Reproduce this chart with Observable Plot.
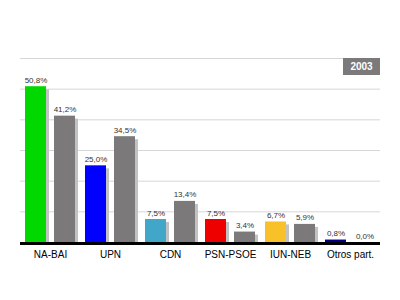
<!DOCTYPE html>
<html>
<head>
<meta charset="utf-8">
<script src="https://cdn.jsdelivr.net/npm/d3@7"></script>
<script src="https://cdn.jsdelivr.net/npm/@observablehq/plot@0.6"></script>
<style>
  html, body { margin: 0; padding: 0; background: #fff; }
  #chart { position: relative; width: 400px; height: 300px; }
</style>
</head>
<body>
<div id="chart"></div>
<script>
const partidos = ["NA-BAI", "UPN", "CDN", "PSN-PSOE", "IUN-NEB", "Otros part."];
const votos2003 = [50.8, 25.0, 7.5, 7.5, 6.7, 0.8];
const votosAnterior = [41.2, 34.5, 13.4, 3.4, 5.9, 0.0];
const colores = ["#00d800", "#0000ff", "#42a6c8", "#ee0000", "#f8c12a", "#000080"];
const grisAnterior = "#7b797a";
const yTicks = [10, 20, 30, 40, 50, 60];
const anio = "2003";

(function () {
  const fmt = v => v.toFixed(1).replace(".", ",") + "%";

  const rows = [];
  partidos.forEach((p, i) => {
    rows.push({partido: p, serie: "actual", valor: votos2003[i], color: colores[i]});
    rows.push({partido: p, serie: "anterior", valor: votosAnterior[i], color: grisAnterior});
  });

  const chart = Plot.plot({
    width: 400,
    height: 300,
    marginTop: 58,
    marginBottom: 58,
    marginLeft: 20,
    marginRight: 20,
    style: {fontFamily: "'Liberation Sans', Arial, sans-serif", background: "#fff"},
    fx: {domain: partidos, padding: 0, label: null},
    x: {domain: ["actual", "anterior"], paddingInner: 8 / 29, paddingOuter: 5 / 29, axis: null},
    y: {domain: [0, 60], axis: null},
    marks: [
      Plot.ruleY(yTicks, {stroke: "#d6d6d6", strokeWidth: 1}),
      Plot.barY(rows, {fx: "partido", x: "serie", y: "valor", fill: "#c2c2c2", dx: 3, insetTop: 3}),
      Plot.barY(rows, {fx: "partido", x: "serie", y: "valor", fill: "color"}),
      Plot.ruleY([0], {stroke: "#000", strokeWidth: 3, dy: 1}),
      Plot.text(rows, {
        fx: "partido", x: "serie", y: "valor", text: d => fmt(d.valor),
        lineAnchor: "bottom", dy: -4, fontSize: 8, fill: "#333"
      }),
      Plot.axisFx({anchor: "bottom", tickSize: 0, tickPadding: 8, fontSize: 10, label: null, fill: "#000"})
    ]
  });

  document.getElementById("chart").appendChild(chart);

  // Year badge in the top-right corner of the frame
  const yScale = chart.scale("y");
  const svg = d3.select(chart);
  const badgeTop = yScale.apply(60);
  const badgeRight = 400 - 20;
  const bw = 37, bh = 17;
  const badge = svg.append("g");
  badge.append("rect")
    .attr("x", badgeRight - bw).attr("y", badgeTop)
    .attr("width", bw).attr("height", bh)
    .attr("fill", grisAnterior);
  badge.append("text")
    .attr("x", badgeRight - bw / 2).attr("y", badgeTop + bh / 2)
    .attr("text-anchor", "middle").attr("dominant-baseline", "central")
    .attr("fill", "#fff").attr("font-weight", "bold").attr("font-size", 10)
    .attr("font-family", "'Liberation Sans', Arial, sans-serif")
    .text(anio);
})();
</script>
</body>
</html>
